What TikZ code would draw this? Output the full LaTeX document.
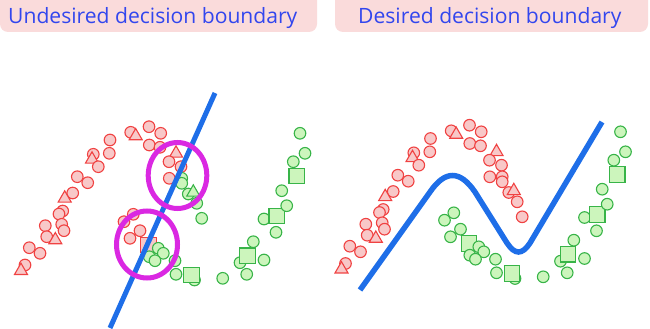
\documentclass[tikz,border=0pt]{standalone}
\usepackage{fontspec}
\setmainfont{Open Sans}
\usetikzlibrary{shapes.geometric}
\definecolor{hdrfill}{RGB}{250,219,219}
\definecolor{hdrtext}{RGB}{50,70,238}
\definecolor{redline}{RGB}{240,66,66}
\definecolor{redfill}{RGB}{248,200,200}
\definecolor{grnline}{RGB}{56,180,72}
\definecolor{grnfill}{RGB}{204,245,188}
\definecolor{bline}{RGB}{30,110,232}
\definecolor{mag}{RGB}{218,40,226}
\tikzset{
  ptc/.style={circle,minimum size=11.6pt,inner sep=0pt},
  ptt/.style={regular polygon,regular polygon sides=3,minimum size=15pt,inner sep=0pt},
  pts/.style={rectangle,minimum size=15.5pt,inner sep=0pt},
  pr/.style={draw=redline,fill=redfill,line width=1.1pt},
  pg/.style={draw=grnline,fill=grnfill,line width=1.1pt},
  hdrbox/.style={fill=hdrfill,rounded corners=8pt},
  hdrlabel/.style={text=hdrtext,anchor=base west,inner sep=0pt,font=\fontsize{21.1pt}{25pt}\selectfont},
  boundary/.style={draw=bline,line width=5pt},
  ring/.style={draw=mag,line width=5pt,ellipse,inner sep=0pt}
}
\begin{document}
\begin{tikzpicture}[x=1pt,y=-1pt]
\useasboundingbox (0,0) rectangle (650,329);
\clip (0,0) rectangle (650,329);
% headers
\path[hdrbox] (0,-12) rectangle (317,32);
\path[hdrbox] (335,-12) rectangle (648,32);
\node[hdrlabel] (t1) at (8,23.3) {Undesired decision boundary};
\node[hdrlabel] (t2) at (358,23.3) {Desired decision boundary};
% points: x/y/shape/left colour/right colour
\foreach \x/\y/\s/\lc/\rc [count=\i] in {
110/140/c/r/r, 109.3/153.3/c/r/r, 93.3/154.3/c/r/r, 92/159.3/t/r/r, 98.3/166.7/c/r/r,
77.3/176.7/c/r/r, 87.7/182.7/c/r/r, 72.7/193/c/r/r, 64.7/198.3/t/r/r, 62.7/211/c/r/r,
59/214/c/r/r, 61.7/224.3/c/r/r, 45.3/225.7/c/r/r, 64/230.7/c/r/r, 46.7/236.7/c/r/r,
55.3/240/t/r/r, 29.3/247.7/c/r/r, 40/253.3/c/r/r, 25/265/c/r/r, 21/270.7/t/r/r,
130.7/132.3/c/r/r, 135.7/136/t/r/r, 149/126.7/c/r/r, 160.7/133.3/c/r/r, 149.3/145/c/r/r,
160/147.3/c/r/r, 176/153.3/t/r/r, 169/161.7/c/r/r, 181/166.7/c/r/r, 169.3/178.3/c/r/r,
181.7/178.3/c/g/r, 181.7/183.3/c/g/r, 188.3/194/c/g/r, 193.3/192.3/t/g/r, 196.7/203.3/c/g/r,
201.7/218.3/c/g/r,
133.3/214.3/c/r/g, 124/221.7/c/r/g, 140/230.7/c/r/g, 130/238.3/c/r/g, 148.3/245/s/r/g,
158.3/248.3/c/g/g, 163.3/253.3/c/g/g, 149.3/256.7/c/g/g, 155/260.7/c/g/g, 175/260.7/c/g/g,
176/274.3/c/g/g, 194.5/280/c/g/g, 191.5/275/s/g/g, 222.7/278.3/c/g/g, 246.7/274.3/c/g/g,
240/262.7/c/g/g, 264/260/c/g/g, 247.3/255.7/s/g/g, 253.3/241.7/c/g/g, 276/232.3/c/g/g,
264/219/c/g/g, 276.7/216/s/g/g, 286.7/205.7/c/g/g, 281.7/190.7/c/g/g, 296.7/176/s/g/g,
293.3/161.7/c/g/g, 305/153.3/c/g/g, 300/133.3/c/g/g}
{
  \node[pt\s,p\lc] (L\i) at (\x,\y) {};
  \node[pt\s,p\rc] (R\i) at (\x+320.5,\y-1.5) {};
}
% left boundary
\coordinate (la) at (215,93);
\coordinate (lb) at (110,328);
\draw[boundary] (la) -- (lb);
% rings
\node[ring,minimum width=58.6pt,minimum height=66pt] (ring1) at (177.5,175.5) {};
\node[ring,minimum width=61pt,minimum height=67pt] (ring2) at (147,244.5) {};
% right boundary
\coordinate (ra) at (360,290);
\coordinate (rb) at (602,122);
\draw[boundary,line width=5.5pt] (ra) -- (430,192) .. controls (445,170) and (460,170) .. (475,192)
  -- (507,243) .. controls (515,255) and (522,255) .. (530,243) -- (rb);
\end{tikzpicture}
\end{document}
